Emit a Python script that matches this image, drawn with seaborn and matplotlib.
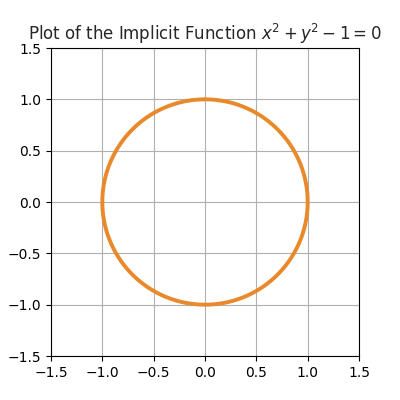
import matplotlib

matplotlib.use("Agg")
import matplotlib.pyplot as plt
import numpy as np
import seaborn as sns

# implicit function a*x^2 + b*y^2 + c = 0 on a sampled domain
coef_x2 = 1.0
coef_y2 = 1.0
const = -1.0
x_range = [-1.5, 1.5]
y_range = [-1.5, 1.5]
n_samples = 400
ticks = [-1.5, -1.0, -0.5, 0.0, 0.5, 1.0, 1.5]

sns.set_style("ticks")
plt.rcParams["font.family"] = ["DejaVu Sans"]

xs = np.linspace(x_range[0], x_range[1], n_samples)
ys = np.linspace(y_range[0], y_range[1], n_samples)
X, Y = np.meshgrid(xs, ys)
Z = coef_x2 * X**2 + coef_y2 * Y**2 + const

fig, ax = plt.subplots(figsize=(4, 4), dpi=100)
ax.contour(X, Y, Z, levels=[0], colors=["#e8892b"], linewidths=2.8)
ax.set_xlim(x_range)
ax.set_ylim(y_range)
ax.set_xticks(ticks)
ax.set_yticks(ticks)
ax.set_aspect("equal")
ax.grid(True, color="#b0b0b0", linewidth=0.8)
for s in ax.spines.values():
    s.set_visible(True)
    s.set_color("black")
    s.set_linewidth(0.8)
ax.tick_params(colors="black", labelsize=10, length=3.5, width=0.8)
ax.set_title(r"Plot of the Implicit Function $x^2 + y^2 - 1 = 0$", fontsize=12)
fig.subplots_adjust(left=0.125, right=0.9, bottom=0.11, top=0.88)
fig.savefig("out.png", dpi=100)
plt.close(fig)
